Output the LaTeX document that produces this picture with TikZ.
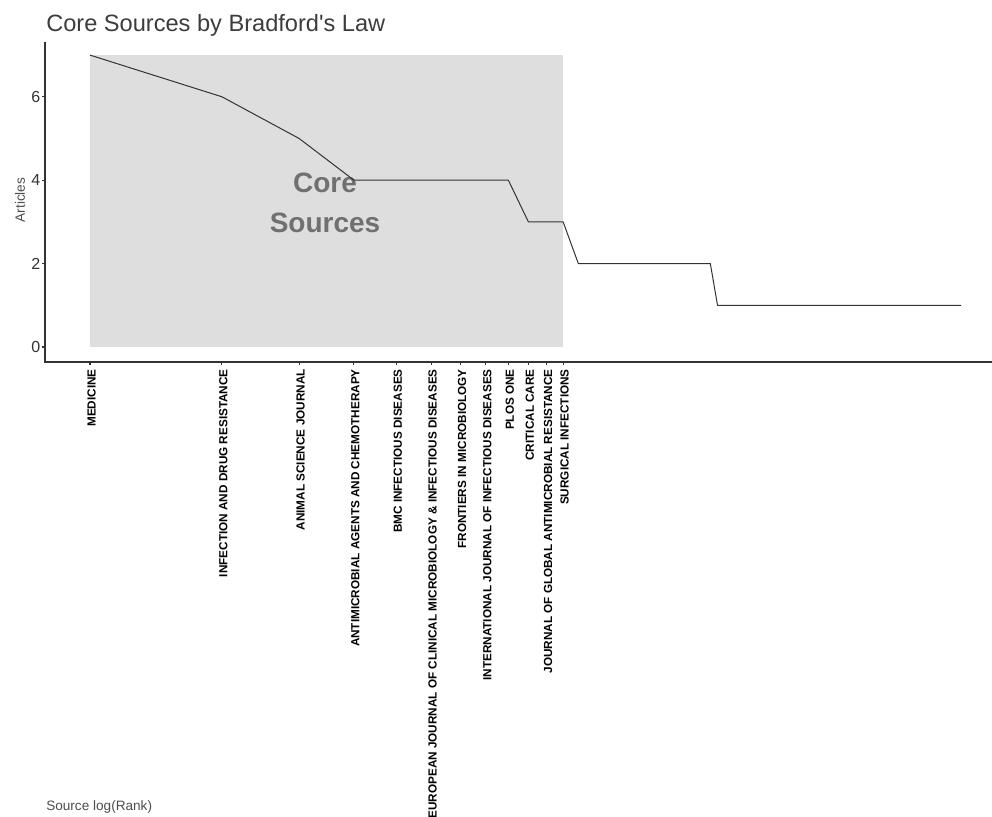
\documentclass[tikz,border=0pt]{standalone}
\usepackage{fontspec}
\setmainfont{Liberation Sans}
\newfontfamily\titlefont{Liberation Sans}
\definecolor{coreshade}{HTML}{DEDEDE}
\definecolor{axisgray}{HTML}{333333}
\definecolor{titlegray}{HTML}{3C3C3C}
\definecolor{labgray}{HTML}{4D4D4D}
\definecolor{coregray}{HTML}{707070}
\begin{document}
\begin{tikzpicture}[x=0.75pt,y=-0.75pt,
  declare function={rx(\r)=90+190.4*ln(\r); vy(\v)=347-41.7*\v;},
  axisline/.style={draw=axisgray,line width=0.8pt},
  dataline/.style={draw=axisgray,line width=0.75pt,line join=round},
  srclabel/.style={rotate=90,anchor=east,inner sep=0pt,font=\fontsize{8.8}{10}\selectfont\bfseries,text=black},
  ticklabel/.style={anchor=east,inner sep=0pt,font=\fontsize{12}{14}\selectfont,text=axisgray},
  axtitle/.style={inner sep=0pt,font=\fontsize{10.2}{12}\selectfont,text=labgray},
  coretext/.style={align=center,inner sep=0pt,font=\fontsize{21}{30}\selectfont\bfseries,text=coregray}]
\useasboundingbox (0,0) rectangle (992,817);
% shaded core zone
\fill[coreshade] (90,{vy(7)}) rectangle ({rx(12)},{vy(0)});
% core sources text
\node[coretext] (core) at (325,203) {Core\\Sources};
% data line
\draw[dataline] ({rx(1)},{vy(7)}) -- ({rx(2)},{vy(6)}) -- ({rx(3)},{vy(5)}) -- ({rx(4)},{vy(4)})
  -- ({rx(9)},{vy(4)}) -- ({rx(10)},{vy(3)}) -- ({rx(12)},{vy(3)}) -- ({rx(13)},{vy(2)})
  -- ({rx(26)},{vy(2)}) -- ({rx(27)},{vy(1)}) -- ({rx(97)},{vy(1)});
% axes
\coordinate (origin) at (45,362);
\coordinate (ytop) at (45,42);
\coordinate (xend) at (992,362);
\draw[axisline] (ytop) -- (origin) -- (xend);
% y ticks
\foreach \v in {0,2,4,6}{
  \draw[axisline] (42,{vy(\v)}) -- (45,{vy(\v)});
  \node[ticklabel] (yt\v) at (40.5,{vy(\v)}) {\v};
}
% x ticks and source labels
\foreach \r/\t in {1/MEDICINE,2/INFECTION AND DRUG RESISTANCE,3/ANIMAL SCIENCE JOURNAL,4/ANTIMICROBIAL AGENTS AND CHEMOTHERAPY,5/BMC INFECTIOUS DISEASES,6/EUROPEAN JOURNAL OF CLINICAL MICROBIOLOGY \& INFECTIOUS DISEASES,7/FRONTIERS IN MICROBIOLOGY,8/INTERNATIONAL JOURNAL OF INFECTIOUS DISEASES,9/PLOS ONE,10/CRITICAL CARE,11/JOURNAL OF GLOBAL ANTIMICROBIAL RESISTANCE,12/SURGICAL INFECTIONS}{
  \draw[axisline] ({rx(\r)},362) -- ({rx(\r)},365);
  \node[srclabel] (src\r) at ({rx(\r)+1.5},369) {\t};
}
% titles
\node[anchor=base west,inner sep=0pt,font=\titlefont\fontsize{17.7}{20}\selectfont,text=titlegray] (title) at (46,32) {Core Sources by Bradford's Law};
\node[axtitle,rotate=90] (ylab) at (20,200) {Articles};
\node[axtitle,anchor=base west] (xlab) at (46,810) {Source log(Rank)};
\end{tikzpicture}
\end{document}
